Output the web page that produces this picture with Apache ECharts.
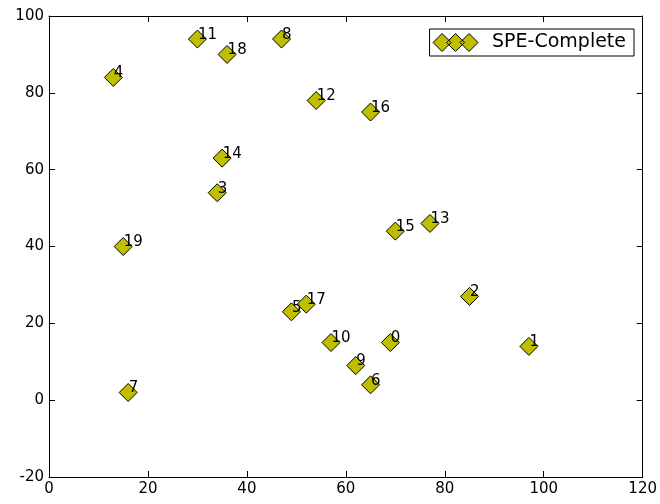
<!DOCTYPE html>
<html><head><meta charset="utf-8">
<script src="https://cdn.jsdelivr.net/npm/echarts@6/dist/echarts.min.js"></script>
<style>html,body{margin:0;padding:0;background:#fff}#c{width:660px;height:504px}</style>
</head><body><div id="c"></div>
<script>
const xValues = [69, 97, 85, 34, 13, 49, 65, 16, 47, 62, 57, 30, 54, 77, 35, 70, 65, 52, 36, 15];
const yValues = [15, 14, 27, 54, 84, 23, 4, 2, 94, 9, 15, 94, 78, 46, 63, 44, 75, 25, 90, 40];
const pointLabels = ["0","1","2","3","4","5","6","7","8","9","10","11","12","13","14","15","16","17","18","19"];
const seriesName = "SPE-Complete";
const xTicks = [0, 20, 40, 60, 80, 100, 120];
const yTicks = [-20, 0, 20, 40, 60, 80, 100];

const font = 'DejaVu Sans';
const data = xValues.map((x, i) => ({ value: [x, yValues[i]], name: pointLabels[i] }));
const chart = echarts.init(document.getElementById('c'));
const axCommon = {
  axisLine: { show: true, onZero: false, lineStyle: { color: '#000', width: 1 } },
  axisTick: { show: true, inside: true, length: 6, lineStyle: { color: '#000' } },
  splitLine: { show: false }
};
chart.setOption({
  animation: false,
  backgroundColor: '#fff',
  grid: { left: 49, right: 17, top: 16, bottom: 27, containLabel: false },
  xAxis: [
    Object.assign({ type: 'value', min: xTicks[0], max: xTicks[xTicks.length-1], interval: 20, position: 'bottom',
      axisLabel: { color: '#000', fontFamily: font, fontSize: 15, margin: 5 } }, axCommon),
    Object.assign({ type: 'value', min: xTicks[0], max: xTicks[xTicks.length-1], interval: 20, position: 'top',
      axisLabel: { show: false } }, axCommon)
  ],
  yAxis: [
    Object.assign({ type: 'value', min: yTicks[0], max: yTicks[yTicks.length-1], interval: 20, position: 'left',
      axisLabel: { color: '#000', fontFamily: font, fontSize: 15, margin: 5 } }, axCommon),
    Object.assign({ type: 'value', min: yTicks[0], max: yTicks[yTicks.length-1], interval: 20, position: 'right',
      axisLabel: { show: false } }, axCommon)
  ],
  legend: {
    right: 26, top: 29,
    orient: 'horizontal',
    backgroundColor: '#fff',
    borderColor: '#000', borderWidth: 1, borderRadius: 0,
    padding: [4, 8, 4, 3],
    itemWidth: 45, itemHeight: 18, itemGap: 10,
    textStyle: { color: '#000', fontFamily: font, fontSize: 19, padding: [0, 0, 0, 9] },
    data: [{ name: seriesName, icon: 'path://M0,9 L9,0 L18,9 L9,18 Z M13.5,9 L22.5,0 L31.5,9 L22.5,18 Z M27,9 L36,0 L45,9 L36,18 Z',
      itemStyle: { color: '#bfbf00', borderColor: '#000', borderWidth: 1 } }]
  },
  series: [{
    name: seriesName,
    type: 'scatter',
    symbol: 'diamond',
    symbolSize: 18,
    itemStyle: { color: '#bfbf00', borderColor: '#000', borderWidth: 1, opacity: 1 },
    label: {
      show: true,
      formatter: p => p.name,
      position: [10, 13],
      align: 'left', verticalAlign: 'bottom',
      color: '#000', fontFamily: font, fontSize: 15
    },
    data: data
  }]
});
</script></body></html>
